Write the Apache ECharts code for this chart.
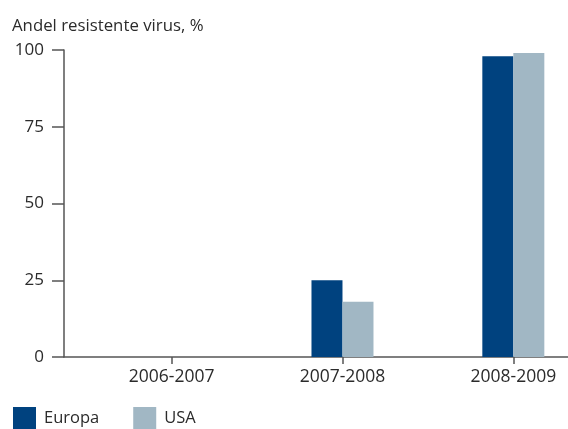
<!DOCTYPE html>
<html>
<head>
<meta charset="utf-8">
<script src="https://cdn.jsdelivr.net/npm/echarts@6/dist/echarts.min.js"></script>
<style>
  html, body { margin: 0; padding: 0; background: #fff; }
  #chart { width: 568px; height: 429px; }
</style>
</head>
<body>
<div id="chart"></div>
<script>
const categories = ['2006-2007', '2007-2008', '2008-2009']
const europa = [0, 25, 98]
const usa = [0, 18, 99]
const yTicks = [0, 25, 50, 75, 100]

const FONT = 'Open Sans'
const TEXT = '#2b2b2b'
const AXIS = '#555'

const myChart = echarts.init(document.getElementById('chart'))

// category index as x position, so label/tick positions stay on the scale
const catIdx = categories.map((c, i) => i)

const option = {
  animation: false,
  backgroundColor: '#fff',
  textStyle: { fontFamily: FONT },
  title: {
    text: 'Andel resistente virus, %',
    left: 7,
    top: 13,
    textStyle: { fontFamily: FONT, fontSize: 16.8, fontWeight: 'normal', color: TEXT },
  },
  legend: {
    left: 13,
    top: 407,
    padding: 0,
    icon: 'rect',
    itemWidth: 23,
    itemHeight: 23,
    itemGap: 34,
    textStyle: { fontFamily: FONT, fontSize: 16.5, color: TEXT, padding: [7, 0, 0, 3] },
    data: ['Europa', 'USA'],
  },
  grid: {
    left: 64,
    right: 0,
    top: 50,
    bottom: 72,
  },
  xAxis: {
    type: 'value',
    min: -0.63,
    max: 2.32,
    splitLine: { show: false },
    axisLine: { show: true, lineStyle: { color: AXIS, width: 1.5 } },
    axisTick: {
      show: true,
      length: 7,
      customValues: catIdx,
      lineStyle: { color: AXIS, width: 1.5 },
    },
    axisLabel: {
      customValues: catIdx,
      formatter: (v) => categories[Math.round(v)] || '',
      fontFamily: FONT,
      fontSize: 17.5,
      color: TEXT,
      margin: 11,
    },
  },
  yAxis: {
    type: 'value',
    min: 0,
    max: 100,
    interval: 25,
    splitLine: { show: false },
    axisLine: { show: true, onZero: false, lineStyle: { color: AXIS, width: 1.5 } },
    axisTick: { show: true, length: 12, lineStyle: { color: AXIS, width: 1.5 } },
    axisLabel: {
      fontFamily: FONT,
      fontSize: 17,
      color: TEXT,
      margin: 20,
      formatter: (v) => (yTicks.includes(v) ? String(v) : ''),
    },
  },
  series: [
    {
      name: 'Europa',
      type: 'bar',
      barWidth: 31,
      barGap: '0%',
      itemStyle: { color: '#00427f' },
      data: europa.map((v, i) => [catIdx[i], v]),
    },
    {
      name: 'USA',
      type: 'bar',
      barWidth: 31,
      barGap: '0%',
      itemStyle: { color: '#a1b7c4' },
      data: usa.map((v, i) => [catIdx[i], v]),
    },
  ],
}
myChart.setOption(option, true)
</script>
</body>
</html>
